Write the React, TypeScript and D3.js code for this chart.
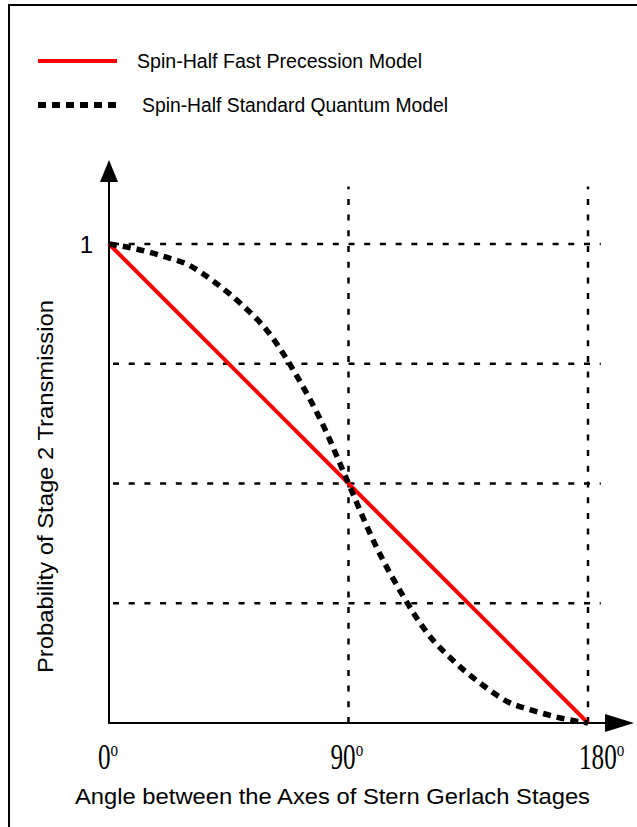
import React from "react";
import * as d3 from "d3";

// angle between the two Stern-Gerlach stages (degrees)
const precessionAngles = [0, 180];
const fastPrecession = [1, 0];

const quantumAngles = [0, 10, 20, 30, 40, 50, 60, 70, 80, 90, 100, 110, 120, 130, 140, 150, 160, 170, 180];
const standardQuantum = [
  1, 0.99, 0.975, 0.956, 0.919, 0.873, 0.815, 0.73, 0.627, 0.5, 0.373, 0.27, 0.185, 0.127, 0.081, 0.044,
  0.025, 0.01, 0,
];

const xTicks = [0, 90, 180];
const xTickLabels = ["0", "90", "180"];
const yGrid = [0.25, 0.5, 0.75, 1];
const legendLabels = ["Spin-Half Fast Precession Model", "Spin-Half Standard Quantum Model"];

const width = 637;
const height = 827;

const App = () => {
  const x = d3.scaleLinear().domain([0, 180]).range([109, 588]);
  const y = d3.scaleLinear().domain([0, 1]).range([723, 244]);

  const line = d3
    .line<number>()
    .x((_, i) => x(precessionAngles[i]))
    .y((d) => y(d));

  const smooth = d3
    .line<number>()
    .x((_, i) => x(quantumAngles[i]))
    .y((d) => y(d))
    .curve(d3.curveMonotoneX);

  const sans = "'Liberation Sans', Arial, sans-serif";
  const serif = "'Liberation Serif', 'Times New Roman', serif";
  const gridDash = "6 9.7";

  const x0 = x(0);
  const y0 = y(0);
  const gridRight = x(184.8);
  const gridTop = y(1.12);
  // tick labels sit a little off their tick in the original
  const labelShift = [-11, -18, -9];

  return (
    <svg
      width={width}
      height={height}
      style={{ position: "absolute", left: 0, top: 0, background: "#fff" }}
    >
      {/* frame */}
      <rect x={9} y={5} width={640} height={840} fill="none" stroke="#000" strokeWidth={2} />

      {/* legend */}
      <g>
        <line x1={38} x2={117} y1={61} y2={61} stroke="#f00" strokeWidth={4} />
        <text x={137} y={68} fontFamily={sans} fontSize={19.5} textLength={285} lengthAdjust="spacingAndGlyphs">
          {legendLabels[0]}
        </text>
        <line x1={38} x2={117} y1={105} y2={105} stroke="#000" strokeWidth={6} strokeDasharray="8 6" />
        <text x={142} y={112} fontFamily={sans} fontSize={19.5} textLength={306} lengthAdjust="spacingAndGlyphs">
          {legendLabels[1]}
        </text>
      </g>

      {/* grid */}
      <g stroke="#000" strokeWidth={2.5} strokeDasharray={gridDash}>
        {yGrid.map((v) => (
          <line key={"h" + v} x1={x0 + 4} x2={gridRight} y1={y(v)} y2={y(v)} />
        ))}
        {xTicks.slice(1).map((v) => (
          <line key={"v" + v} x1={x(v)} x2={x(v)} y1={y0} y2={gridTop} />
        ))}
      </g>

      {/* axes */}
      <line x1={x0} x2={x0} y1={y0 + 1} y2={178} stroke="#000" strokeWidth={2} />
      <path d={`M${x0},160 L${x0 - 9},182 L${x0 + 9},182 Z`} fill="#000" />
      <line x1={x0 - 1} x2={610} y1={y0} y2={y0} stroke="#000" strokeWidth={2} />
      <path d={`M634,${y0} L605,${y0 - 9} L605,${y0 + 9} Z`} fill="#000" />

      {/* series */}
      <path d={line(fastPrecession) ?? ""} fill="none" stroke="#f00" strokeWidth={4} />
      <path
        d={smooth(standardQuantum) ?? ""}
        fill="none"
        stroke="#000"
        strokeWidth={5.5}
        strokeDasharray="8 6"
      />

      {/* y tick */}
      <text x={x0 - 16} y={y(1) + 9} textAnchor="end" fontFamily={sans} fontSize={24}>
        1
      </text>

      {/* x ticks */}
      {xTicks.map((v, i) => (
        <g key={v} transform={`translate(${x(v) + labelShift[i]},769) scale(0.72,1)`}>
          <text fontFamily={serif} fontSize={35}>
            {xTickLabels[i]}
            <tspan dy={-13} fontSize={21}>
              o
            </tspan>
          </text>
        </g>
      ))}

      {/* axis titles */}
      <text
        x={75}
        y={804}
        fontFamily={sans}
        fontSize={22}
        textLength={515}
        lengthAdjust="spacingAndGlyphs"
      >
        Angle between the Axes of Stern Gerlach Stages
      </text>
      <text
        transform="translate(53,673) rotate(-90)"
        fontFamily={sans}
        fontSize={22}
        textLength={373}
        lengthAdjust="spacingAndGlyphs"
      >
        Probability of Stage 2 Transmission
      </text>
    </svg>
  );
};

export default App;
